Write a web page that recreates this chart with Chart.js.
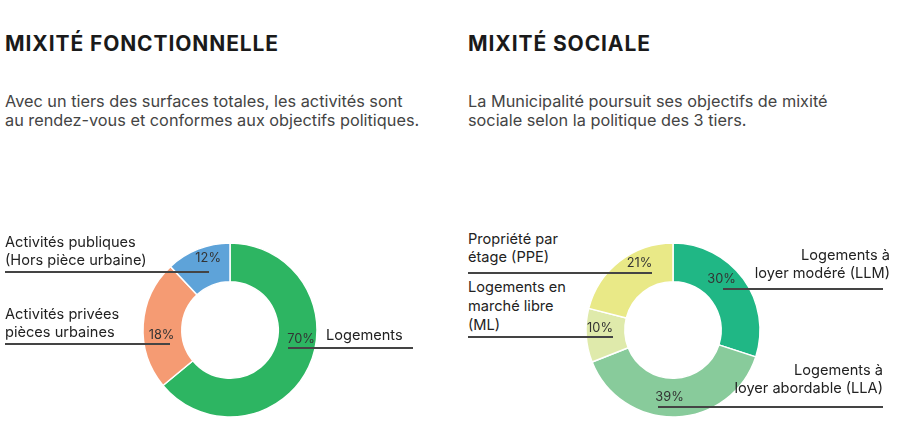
<!DOCTYPE html>
<html lang="fr">
<head>
<meta charset="utf-8">
<script src="https://cdn.jsdelivr.net/npm/chart.js@4"></script>
<style>
    html, body { margin: 0; padding: 0; background: #fff; }
    body { width: 900px; height: 444px; position: relative; overflow: hidden; font-family: Inter, 'Noto Sans', sans-serif; color: #222; }
    .title { position: absolute; top: 31px; font-size: 21px; line-height: 26px; font-weight: 700; color: #1a1a1a; letter-spacing: 0.9px; }
    .sub { position: absolute; top: 92px; font-size: 16.3px; line-height: 18.5px; color: #444; }
    .lbl { position: absolute; font-size: 14.6px; line-height: 18px; color: #222; white-space: nowrap; }
    .lbl.r { text-align: right; }
    .rule { position: absolute; height: 1.5px; background: #444; z-index: 3; }
    canvas { position: absolute; }
</style>
</head>
<body>
<div class="title" style="left:5px">MIXITÉ FONCTIONNELLE</div>
<div class="sub" style="left:5px">Avec un tiers des surfaces totales, les activités sont<br>au rendez-vous et conformes aux objectifs politiques.</div>
<div class="title" style="left:468px">MIXITÉ SOCIALE</div>
<div class="sub" style="left:468px">La Municipalité poursuit ses objectifs de mixité<br>sociale selon la politique des 3 tiers.</div>

<canvas id="fonctionChart" width="200" height="200" style="left:130px;top:230px;width:200px;height:200px"></canvas>
<canvas id="socialeChart" width="200" height="200" style="left:573px;top:230px;width:200px;height:200px"></canvas>

<div class="lbl" style="left:5px;top:233px">Activités publiques<br>(Hors pièce urbaine)</div>
<div class="lbl" style="left:5px;top:305px">Activités privées<br>pièces urbaines</div>
<div class="lbl" style="left:326px;top:326px">Logements</div>
<div class="rule" style="left:5px;top:271px;width:204px"></div>
<div class="rule" style="left:5px;top:343px;width:165px"></div>
<div class="rule" style="left:288px;top:347px;width:125px"></div>

<div class="lbl" style="left:468px;top:230px">Propriété par<br>étage (PPE)</div>
<div class="lbl" style="left:468px;top:278px;line-height:19px">Logements en<br>marché libre<br>(ML)</div>
<div class="lbl r" style="right:10px;top:246px">Logements à<br>loyer modéré (LLM)</div>
<div class="lbl r" style="right:17px;top:361px">Logements à<br>loyer abordable (LLA)</div>
<div class="rule" style="left:468px;top:272px;width:184px"></div>
<div class="rule" style="left:468px;top:336px;width:145px"></div>
<div class="rule" style="left:723px;top:288px;width:160px"></div>
<div class="rule" style="left:658px;top:406px;width:225px"></div>

<script>
// Mixité fonctionnelle: Logements, Activités privées, Activités publiques
const fonctionLabels = ['Logements', 'Activités privées pièces urbaines', 'Activités publiques (Hors pièce urbaine)']
// parts des arcs telles que dessinées (les pourcentages imprimés diffèrent)
const fonctionValues = [64, 24, 12]
const fonctionPercents = ['70%', '18%', '12%']

// Mixité sociale: LLM, LLA, ML, PPE
const socialeLabels = ['Logements à loyer modéré (LLM)', 'Logements à loyer abordable (LLA)', 'Logements en marché libre (ML)', 'Propriété par étage (PPE)']
const socialeValues = [30, 39, 10, 21]
const socialePercents = ['30%', '39%', '10%', '21%']

// position des étiquettes % : [angle depuis le haut (deg), rayon px]
const percentPlugin = {
    id: 'percentLabels',
    afterDatasetsDraw(chart, args, opts) {
        const { ctx } = chart
        const arc0 = chart.getDatasetMeta(0).data[0]
        if (!arc0) return
        const cx = arc0.x, cy = arc0.y
        ctx.save()
        ctx.font = '12.8px Inter, "Noto Sans", sans-serif'
        ctx.fillStyle = '#333'
        ctx.textAlign = 'center'
        ctx.textBaseline = 'middle'
        opts.texts.forEach((t, i) => {
            const [deg, r] = opts.pos[i]
            const a = (deg - 90) * Math.PI / 180
            ctx.fillText(t, cx + Math.cos(a) * r, cy + Math.sin(a) * r)
        })
        ctx.restore()
    }
}

function makeDonut(id, labels, values, colors, texts, pos) {
    return new Chart(document.getElementById(id), {
        type: 'doughnut',
        data: {
            labels: labels,
            datasets: [{
                data: values,
                backgroundColor: colors,
                borderColor: '#fff',
                borderWidth: 1.5
            }]
        },
        options: {
            responsive: false,
            animation: false,
            radius: 87,
            cutout: 55,
            layout: { padding: 0 },
            plugins: {
                legend: { display: false },
                tooltip: { enabled: false },
                percentLabels: { texts: texts, pos: pos }
            }
        },
        plugins: [percentPlugin]
    })
}

makeDonut('fonctionChart', fonctionLabels, fonctionValues,
    ['#2db562', '#f59b73', '#5ea3d9'], fonctionPercents,
    [[97, 71.5], [266, 68.6], [343, 74.7]])

makeDonut('socialeChart', socialeLabels, socialeValues,
    ['#20b785', '#88cb9b', '#dfeaab', '#e9e987'], socialePercents,
    [[43.6, 70.4], [183, 67], [271.6, 73], [333.4, 74.9]])
</script>
</body>
</html>
